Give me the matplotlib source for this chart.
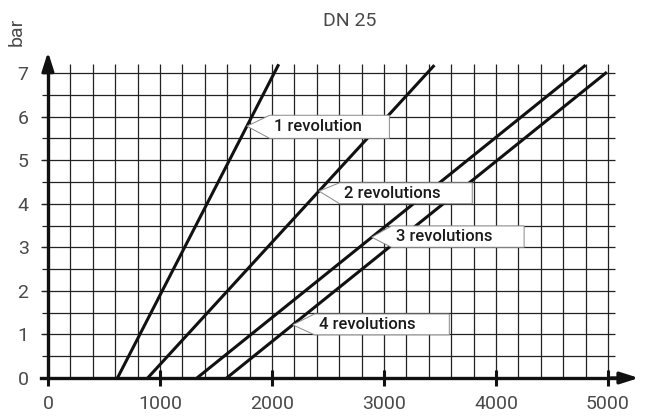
import numpy as np
import matplotlib
matplotlib.use('Agg')
import matplotlib.pyplot as plt
from matplotlib.patches import Polygon

# data
labels = ['1 revolution', '2 revolutions', '3 revolutions', '4 revolutions']
flow_start = [620, 890, 1330, 1595]     # where each line leaves p = 0
flow_end = [2060, 3450, 4800, 4990]     # upper end of each line
p_end = [7.2, 7.18, 7.18, 7.02]
tip_p = [5.78, 4.29, 3.23, 1.22]        # pressure where the label points at the line
box_x = [(1979, 3048), (2603, 3788), (3066, 4251), (2380, 3583)]
box_p = [(5.5, 6.03), (4.0, 4.48), (3.0, 3.49), (0.99, 1.47)]
x_ticks = [0, 1000, 2000, 3000, 4000, 5000]
y_ticks = [0, 1, 2, 3, 4, 5, 6, 7]

plt.rcParams['font.family'] = ['Roboto', 'DejaVu Sans']
grey = '#4a4a4a'

fig = plt.figure(figsize=(6.5, 4.16), dpi=100)
W, H = 650, 416
x0, x1 = 48, 608
y0, y1 = 378, 73
ax = fig.add_axes([x0 / W, (H - y0) / H, (x1 - x0) / W, (y0 - y1) / H])
ax.set_xlim(0, 5000)
ax.set_ylim(0, 7)
for s in ax.spines.values():
    s.set_visible(False)

# grid
vx = np.arange(200, 5001, 200)
ax.vlines(vx, 0, 7.2, color='#222222', lw=0.9, clip_on=False, zorder=1)
hy = np.arange(0.5, 7.01, 0.5)
ax.hlines(hy, -55, 5060, color='#222222', lw=0.9, clip_on=False, zorder=1)

# axes with arrows
ax.plot([0, 0], [0, 7.2], color='#111111', lw=2.4, clip_on=False, zorder=4)
ax.plot([-60, 5150], [0, 0], color='#111111', lw=2.4, clip_on=False, zorder=4)
ax.annotate('', xy=(0, 7.55), xytext=(0, 7.1), xycoords='data',
            arrowprops=dict(arrowstyle='-|>,head_length=1.1,head_width=0.35',
                            color='#111111', lw=2.4), annotation_clip=False, zorder=5)
ax.annotate('', xy=(5300, 0), xytext=(5000, 0), xycoords='data',
            arrowprops=dict(arrowstyle='-|>,head_length=1.1,head_width=0.35',
                            color='#111111', lw=2.4), annotation_clip=False, zorder=5)

# ticks
ax.set_xticks(x_ticks)
ax.set_xticklabels([str(v) for v in x_ticks])
ax.set_yticks(y_ticks)
ax.set_yticklabels([str(v) for v in y_ticks])
ax.tick_params(axis='x', direction='inout', length=11, width=2.2, color='#111111',
               labelsize=14, labelcolor=grey, pad=7)
ax.tick_params(axis='y', direction='out', length=5, width=0.9, color='#222222',
               labelsize=14, labelcolor=grey, pad=9)

# curves
for i in range(len(labels)):
    ax.plot([flow_start[i], flow_end[i]], [0, p_end[i]], color='#111111', lw=2.2,
            solid_capstyle='butt', clip_on=False, zorder=3)

# label callouts
for i, lab in enumerate(labels):
    tx = np.interp(tip_p[i], [0, p_end[i]], [flow_start[i], flow_end[i]])
    bl, br = box_x[i]
    bb, bt = box_p[i]
    poly = Polygon([(tx, tip_p[i]), (bl, bt), (br, bt), (br, bb), (bl, bb)],
                   closed=True, facecolor='white', edgecolor='#888888', lw=0.7,
                   zorder=6, clip_on=False)
    ax.add_patch(poly)
    ax.text(bl + 40, (bb + bt) / 2, lab, ha='left', va='center', fontsize=12,
            fontweight='medium', color='#1a1a1a', zorder=7)

fig.text(350 / W, 1 - 21 / H, 'DN 25', ha='center', va='center', fontsize=14,
         color=grey)
fig.text(17 / W, 1 - 32 / H, 'bar', ha='center', va='center', rotation=90,
         fontsize=14, color=grey)

fig.savefig('out.png', dpi=100)
